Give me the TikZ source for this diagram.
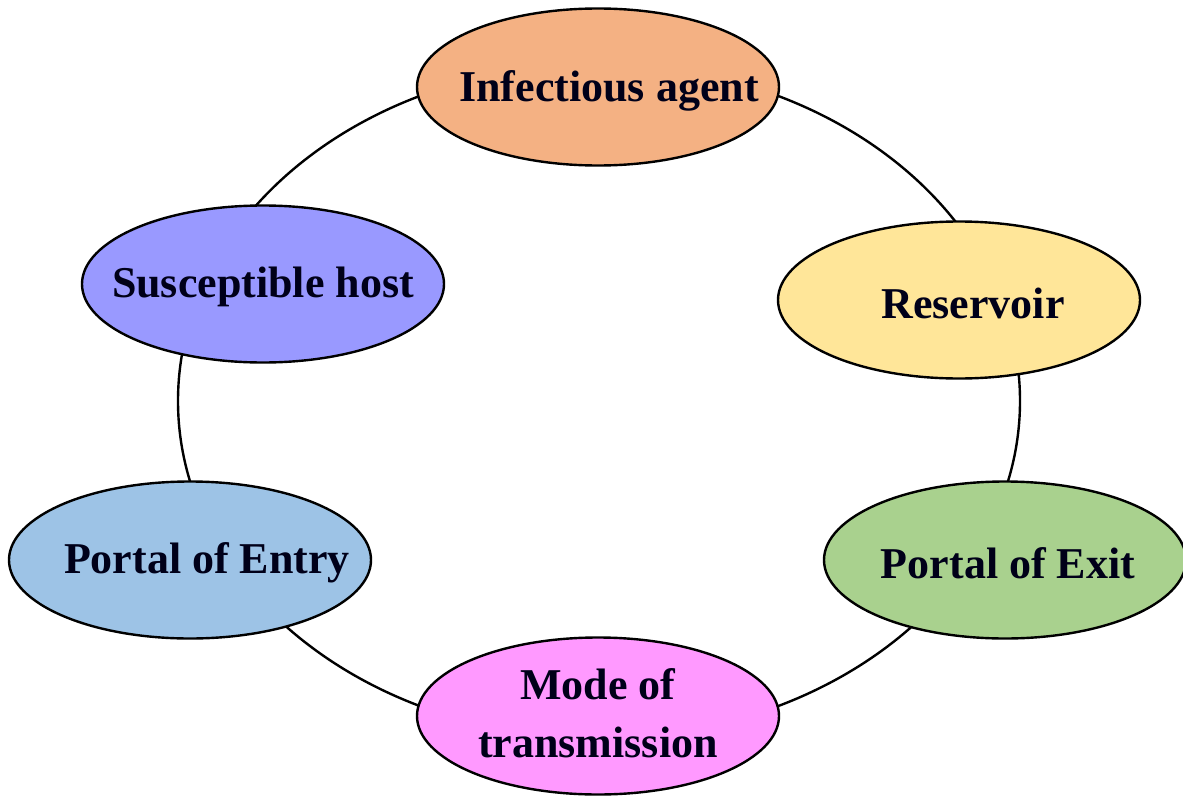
\documentclass[tikz,border=0pt]{standalone}
\usepackage{fontspec}
\setmainfont{Liberation Serif}
\usetikzlibrary{shapes.geometric}
\definecolor{cAgent}{HTML}{F4B183}
\definecolor{cRes}{HTML}{FFE699}
\definecolor{cExit}{HTML}{A9D18E}
\definecolor{cMode}{HTML}{FF99FF}
\definecolor{cEntry}{HTML}{9DC3E6}
\definecolor{cHost}{HTML}{9999FF}
\tikzset{
  stage/.style={ellipse, draw=black, line width=2.4pt, minimum width=362pt, minimum height=157pt, inner sep=0pt},
  lbl/.style={font=\bfseries\fontsize{44}{58}\selectfont, align=center, text=black!90!blue},
  ring/.style={draw=black, line width=2.4pt}
}
\begin{document}
\begin{tikzpicture}[x=1pt,y=-1pt]
\useasboundingbox (0,0) rectangle (1183,800);
\fill[white] (0,0) rectangle (1183,800);
\coordinate (ringc) at (599,401);
\draw[ring] (ringc) ellipse [x radius=421pt, y radius=337pt];
\node[stage, fill=cAgent, label={[lbl, xshift=11pt, yshift=-4pt]center:Infectious agent}] (agent) at (598,87) {};
\node[stage, fill=cRes, label={[lbl, xshift=14pt, yshift=-3pt]center:Reservoir}] (res) at (959,300) {};
\node[stage, fill=cExit, label={[lbl, xshift=3pt, yshift=-3pt]center:Portal of Exit}] (exit) at (1005,560) {};
\node[stage, fill=cMode, label={[lbl, yshift=3pt]center:Mode of\\transmission}] (mode) at (598,716) {};
\node[stage, fill=cEntry, label={[lbl, xshift=17pt, yshift=-3pt]center:Portal of Entry}] (entry) at (190,560) {};
\node[stage, fill=cHost, label={[lbl, yshift=-3pt]center:Susceptible host}] (host) at (263,284) {};
\end{tikzpicture}
\end{document}
